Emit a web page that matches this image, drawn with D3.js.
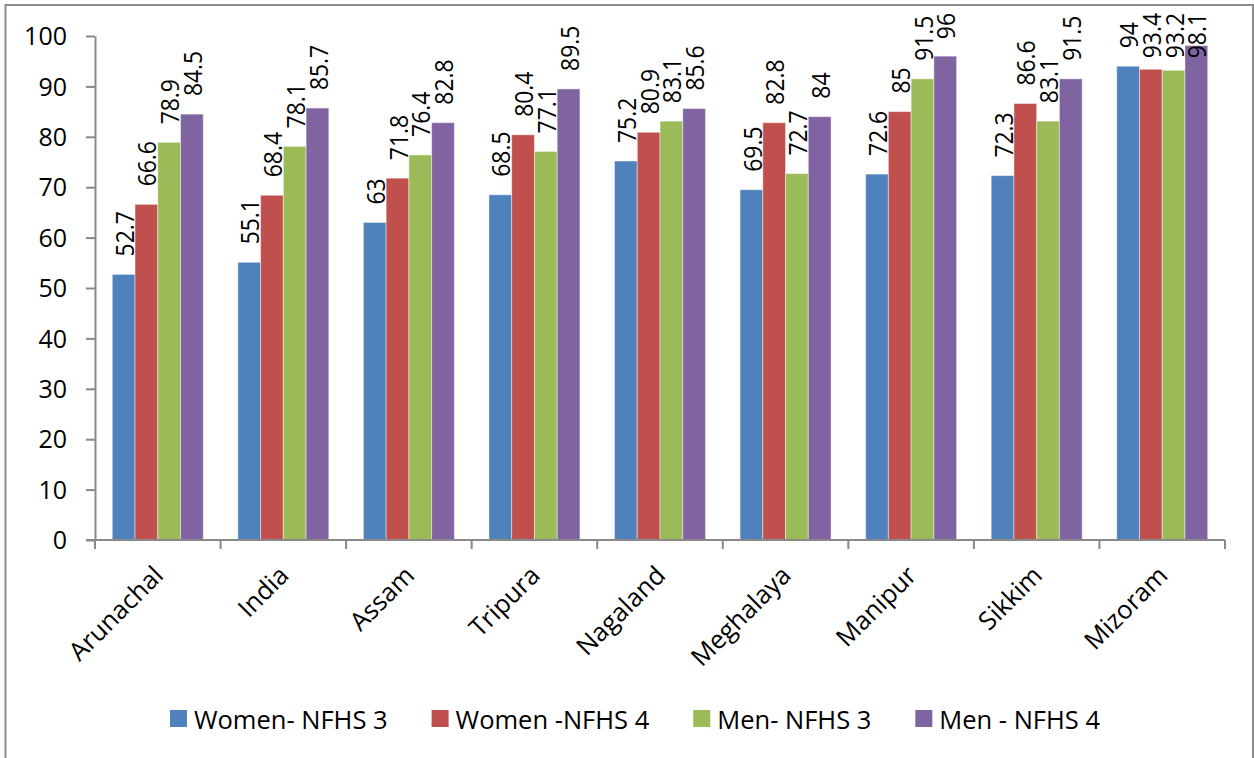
<!DOCTYPE html>
<html>
<head>
<meta charset="utf-8">
<script src="https://cdn.jsdelivr.net/npm/d3@7/dist/d3.min.js"></script>
<style>
  html, body { margin: 0; padding: 0; background: #ffffff; }
  svg { display: block; font-family: "Open Sans", "Liberation Sans", sans-serif; }
</style>
</head>
<body>
<svg id="chart" width="1254" height="758"></svg>
<script>
// Literacy by state, NFHS-3 vs NFHS-4
const categories = ["Arunachal", "India", "Assam", "Tripura", "Nagaland", "Meghalaya", "Manipur", "Sikkim", "Mizoram"];
const seriesNames = ["Women- NFHS 3", "Women -NFHS 4", "Men- NFHS 3", "Men - NFHS 4"];
const womenNfhs3 = [52.7, 55.1, 63, 68.5, 75.2, 69.5, 72.6, 72.3, 94];
const womenNfhs4 = [66.6, 68.4, 71.8, 80.4, 80.9, 82.8, 85, 86.6, 93.4];
const menNfhs3 = [78.9, 78.1, 76.4, 77.1, 83.1, 72.7, 91.5, 83.1, 93.2];
const menNfhs4 = [84.5, 85.7, 82.8, 89.5, 85.6, 84, 96, 91.5, 98.1];
const yTicks = [0, 10, 20, 30, 40, 50, 60, 70, 80, 90, 100];
const colors = ["#4F81BD", "#C0504D", "#9BBB59", "#8064A2"];

const seriesValues = [womenNfhs3, womenNfhs4, menNfhs3, menNfhs4];
const rows = categories.map((c, i) => ({
  category: c,
  values: seriesNames.map((s, k) => ({ key: s, k: k, value: seriesValues[k][i] }))
}));

const svg = d3.select("#chart");
const plot = { left: 95, right: 1225, top: 36, bottom: 540 };
const axisColor = "#898989";

// outer chart border
svg.append("path")
  .attr("d", "M5.5,760 L5.5,5 L1253,5 L1253,760")
  .attr("fill", "none").attr("stroke", "#8c8c8c").attr("stroke-width", 2);

const x0 = d3.scaleBand().domain(categories).range([plot.left, plot.right]).padding(0);
const x1 = d3.scaleBand().domain(seriesNames).range([0, x0.bandwidth()])
  .paddingInner(0).paddingOuter(0.76);
const y = d3.scaleLinear().domain([0, 100]).range([plot.bottom, plot.top]);
const color = d3.scaleOrdinal().domain(seriesNames).range(colors);

// y axis
const yAxis = svg.append("g").attr("transform", `translate(${plot.left},0)`)
  .call(d3.axisLeft(y).tickValues(yTicks).tickSize(9).tickPadding(19).tickSizeOuter(0));
yAxis.select(".domain").attr("stroke", axisColor).attr("stroke-width", 2);
yAxis.selectAll(".tick line").attr("stroke", axisColor).attr("stroke-width", 2);
yAxis.selectAll(".tick text")
  .attr("font-family", "'Open Sans', sans-serif")
  .attr("font-size", 25).attr("fill", "#000").attr("dy", "0.35em");

// bars
const groups = svg.append("g").selectAll("g").data(rows).join("g")
  .attr("transform", d => `translate(${x0(d.category)},0)`);

groups.selectAll("rect").data(d => d.values).join("rect")
  .attr("x", d => x1(d.key))
  .attr("y", d => y(d.value))
  .attr("width", x1.bandwidth())
  .attr("height", d => y(0) - y(d.value))
  .attr("fill", d => color(d.key))
  .attr("stroke", "rgba(255,255,255,0.45)")
  .attr("stroke-width", 1);

// x axis
const xAxis = svg.append("g").attr("transform", `translate(0,${plot.bottom})`);
xAxis.append("line")
  .attr("x1", plot.left - 9).attr("x2", plot.right)
  .attr("y1", 0).attr("y2", 0)
  .attr("stroke", axisColor).attr("stroke-width", 2);
const boundaries = categories.map(c => x0(c)).concat([plot.right]);
xAxis.selectAll("line.tick").data(boundaries).join("line")
  .attr("class", "tick")
  .attr("x1", d => d).attr("x2", d => d)
  .attr("y1", 0).attr("y2", 9)
  .attr("stroke", axisColor).attr("stroke-width", 2);

// category labels, rotated
svg.append("g").selectAll("text").data(categories).join("text")
  .attr("transform", c => `translate(${x0(c) + x0.bandwidth() / 2 + 7},${plot.bottom + 37}) rotate(-45)`)
  .attr("text-anchor", "end")
  .attr("font-size", 25.5)
  .attr("fill", "#000")
  .text(c => c);

// value labels, vertical, kept inside the chart area
const labelGap = 18, labelTopLimit = 13;
groups.selectAll("text.val").data(d => d.values).join("text")
  .attr("class", "val")
  .attr("text-anchor", "start")
  .attr("dominant-baseline", "central")
  .attr("font-size", 26)
  .attr("fill", "#000")
  .text(d => d.value)
  .each(function (d) {
    const len = this.getComputedTextLength() * 0.88;
    let start = y(d.value) - labelGap;
    if (start - len < labelTopLimit) start = labelTopLimit + len;
    const cx = x1(d.key) + x1.bandwidth() / 2;
    d3.select(this).attr("transform", `translate(${cx},${start}) rotate(-90) scale(0.88,1)`);
  });

// legend
const legend = svg.append("g");
const items = legend.selectAll("g").data(seriesNames).join("g");
items.append("rect")
  .attr("x", 0).attr("y", -8.5).attr("width", 17).attr("height", 17)
  .attr("fill", d => color(d));
items.append("text")
  .attr("x", 24).attr("y", 0)
  .attr("dominant-baseline", "central")
  .attr("font-size", 25.5).attr("fill", "#000")
  .text(d => d);
let cursor = 0;
const widths = [];
items.each(function () {
  const w = 24 + d3.select(this).select("text").node().getComputedTextLength();
  widths.push(w);
});
const gap = 44;
const total = d3.sum(widths) + gap * (widths.length - 1);
const startX = 635 - total / 2;
items.attr("transform", (d, i) => {
  const tx = startX + cursor;
  cursor += widths[i] + gap;
  return `translate(${tx},718.5)`;
});
</script>
</body>
</html>
